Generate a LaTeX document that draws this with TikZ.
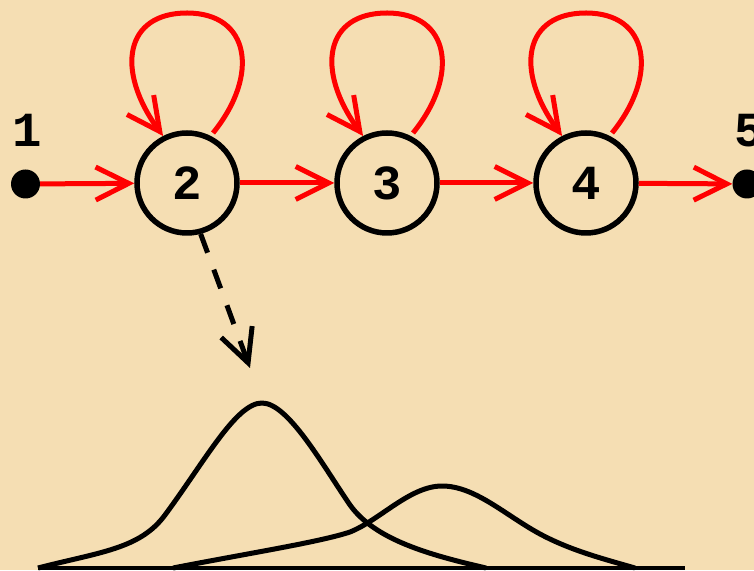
\documentclass[tikz,border=0pt]{standalone}
\usepackage{fontspec}
\setmonofont{Liberation Mono}
\usetikzlibrary{arrows.meta}
\definecolor{bg}{RGB}{245,222,179}
\begin{document}
\begin{tikzpicture}[x=1pt,y=1pt,
  lbl/.style={font=\ttfamily\bfseries\fontsize{49}{52}\selectfont},
  state/.style={circle,draw=black,line width=5.5pt,minimum size=100pt,inner sep=0pt,lbl},
  dotnode/.style={circle,fill=black,minimum size=29pt,inner sep=0pt},
  tr/.style={draw=red,line width=5pt,-{Straight Barb[length=33pt,width=33pt]}},
  emis/.style={draw=black,line width=5pt,dash pattern=on 20pt off 18pt,-{Straight Barb[length=33pt,width=33pt]}},
  bell/.style={draw=black,line width=5pt,line join=round}]
\clip (0,0) rectangle (754,570);
\fill[bg] (0,0) rectangle (754,570);
\node[dotnode] (n1) at (25.5,386) {};
\node[dotnode] (n5) at (747,386) {};
\node[lbl,anchor=base] (l1) at (27,423) {1};
\node[lbl,anchor=base] (l5) at (749,423) {5};
\node[state] (n2) at (187,387) {2};
\node[state] (n3) at (387,387) {3};
\node[state] (n4) at (586,387) {4};
\draw[tr] (n1) -- (n2);
\draw[tr] (n2) -- (n3);
\draw[tr] (n3) -- (n4);
\draw[tr] (n4) -- (n5);
\foreach \n in {n2,n3,n4}
  \draw[tr] ([shift={(26,50)}]\n.center) .. controls ([shift={(73,108)}]\n.center) and ([shift={(63,170)}]\n.center) .. ([shift={(0,170)}]\n.center) .. controls ([shift={(-62,170)}]\n.center) and ([shift={(-72,113)}]\n.center) .. (\n.117);
\coordinate (dend) at (250,202);
\draw[emis] (n2.-75) -- (dend);
\draw[bell] (38,2) .. controls (100,18) and (140,21) .. (165,55)
  .. controls (205,109) and (236,167) .. (262,167)
  .. controls (288,167) and (322,106) .. (350,65)
  .. controls (375,30) and (430,15) .. (486,2);
\draw[bell] (173,2) .. controls (250,17) and (320,28) .. (350,38)
  .. controls (380,50) and (410,84) .. (442,84)
  .. controls (475,84) and (505,55) .. (540,36)
  .. controls (570,20) and (600,12) .. (635,2);
\draw[line width=4.5pt] (38,2) -- (685,2);
\end{tikzpicture}
\end{document}
